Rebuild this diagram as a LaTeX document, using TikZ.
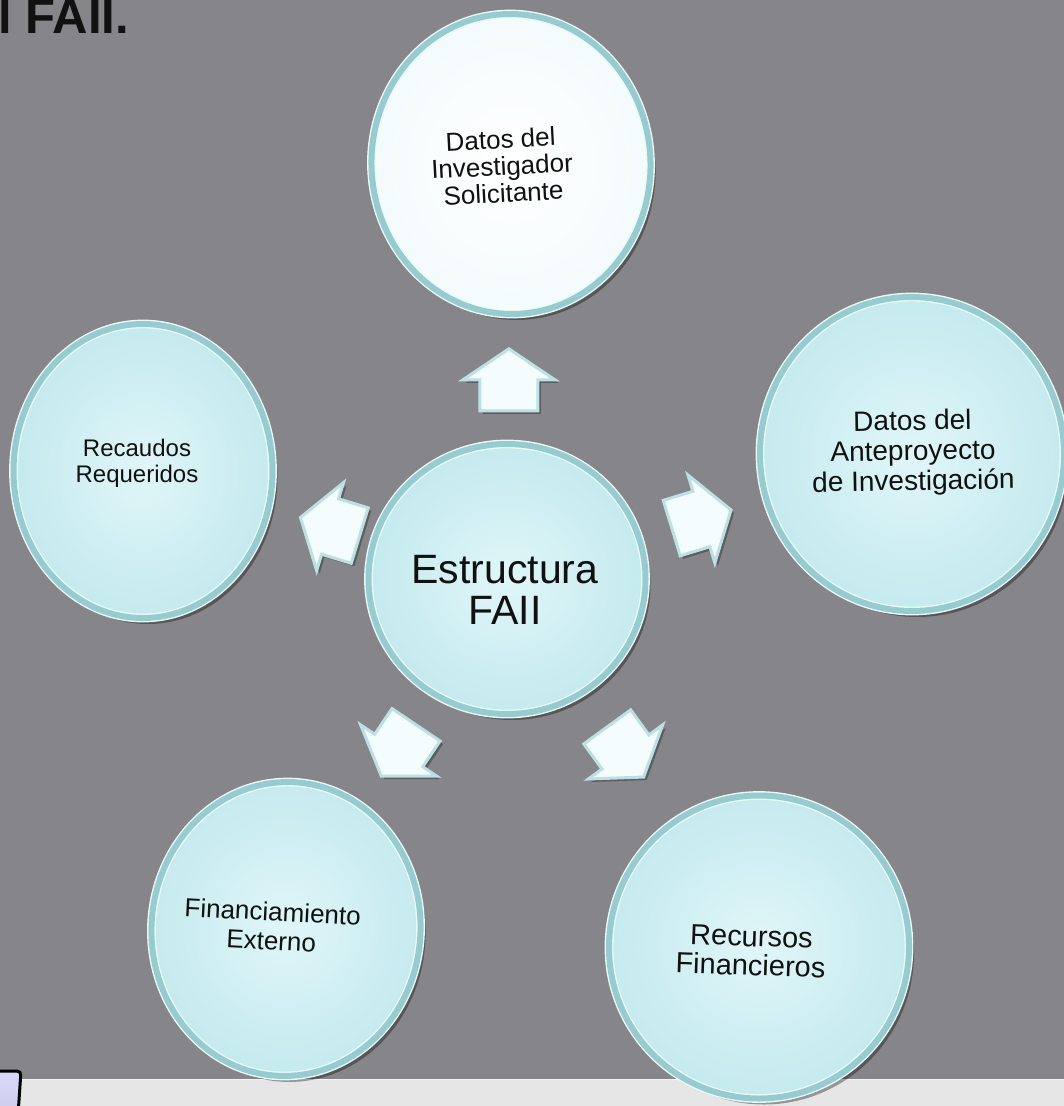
\documentclass[tikz,border=0pt]{standalone}
\usepackage{fontspec}
\setmainfont{Liberation Sans}
\usetikzlibrary{shapes.geometric,shadows,calc}
\definecolor{bgc}{RGB}{134,133,137}
\definecolor{stripc}{RGB}{230,230,230}
\definecolor{ringc}{RGB}{150,203,207}
\definecolor{rimw}{RGB}{236,249,250}
\definecolor{cyin}{RGB}{224,246,248}
\definecolor{cyout}{RGB}{196,234,238}
\definecolor{arrfill}{RGB}{244,252,253}
\definecolor{arredge}{RGB}{188,224,227}
\definecolor{txt}{RGB}{17,17,17}
\tikzset{
  bub/.style={ellipse, inner sep=0pt,
    draw=rimw, line width=1.4pt, double=ringc, double distance=6pt,
    inner color=cyin, outer color=cyout,
    drop shadow={shadow xshift=5pt, shadow yshift=-6pt, opacity=0.35, fill=black}},
  bubw/.style={bub, inner color=white, outer color=white!80!cyout},
  lbl/.style={align=center, text=txt, inner sep=0pt, font=\fontsize{#1}{#1}\selectfont},
  arrstyle/.style={fill=arrfill, draw=arredge, line width=3pt, line join=miter,
    drop shadow={shadow xshift=3pt, shadow yshift=-3pt, opacity=0.3, fill=black}},
  blockarr/.pic={\path[arrstyle] (-31,-29) -- (0,-29) -- (0,-46) -- (31,0)
     -- (0,46) -- (0,29) -- (-31,29) -- cycle;}
}
\begin{document}
\begin{tikzpicture}[x=1pt,y=-1pt]
\useasboundingbox (0,0) rectangle (1064,1106);
\clip (0,0) rectangle (1064,1106);
\fill[bgc] (0,0) rectangle (1064,1106);
\fill[stripc] (0,1079) rectangle (1064,1106);
\draw[white!90!gray, line width=1pt] (0,1079.5) -- (1064,1079.5);
% partial screen corner
\draw[line width=3pt, rounded corners=4pt, top color=black!20!blue!15!white, bottom color=black!35!blue!20!white]
  (-10,1071) -- (21,1071) -- (18,1115) -- (-10,1115) -- cycle;
% title fragment
\node[anchor=base west, inner sep=0pt, text=txt, font=\fontsize{49}{49}\selectfont\bfseries] (ttl) at (-2,33) {l FAII.};

% circles
\node[bubw, rotate=3, minimum width=279, minimum height=300] (top) at (511,164) {};
\node[bub, rotate=2, minimum width=304, minimum height=314] (right) at (912,454) {};
\node[bub, minimum width=259, minimum height=294] (left) at (143,471) {};
\node[bub, minimum width=277, minimum height=270] (core) at (507,579) {};
\node[bub, rotate=-4, minimum width=269, minimum height=294] (bl) at (286,929) {};
\node[bub, rotate=-4, minimum width=300, minimum height=303] (br) at (759,947) {};

% texts
\node[lbl={26}, rotate=3] (top-t) at (502,166) {Datos del\\[1pt]Investigador\\[1pt]Solicitante};
\node[lbl={28}, rotate=1] (right-t) at (913,453) {Datos del\\[2pt]Anteproyecto\\[2pt]de Investigación};
\node[lbl={24}] (left-t) at (137,463) {Recaudos\\[2pt]Requeridos};
\node[lbl={41}] (core-t) at (505,590) {Estructura\\FAII};
\node[lbl={26}, rotate=-3] (bl-t) at (272,926) {Financiamiento\\[3pt]Externo};
\node[lbl={29}, rotate=-2] (br-t) at (751,951) {Recursos\\Financieros};

% block arrows from core towards each circle
\pic[rotate=90] at ($(core)!0.48!(top)$) {blockarr};
\pic[rotate=17] at ($(core)!0.48!(right)$) {blockarr};
\pic[rotate=163] at ($(core)!0.486!(left)$) {blockarr};
\pic[rotate=-54] at ($(core)!0.47!(br)$) {blockarr};
\pic[rotate=-124] at ($(core)!0.49!(bl)$) {blockarr};
\end{tikzpicture}
\end{document}
